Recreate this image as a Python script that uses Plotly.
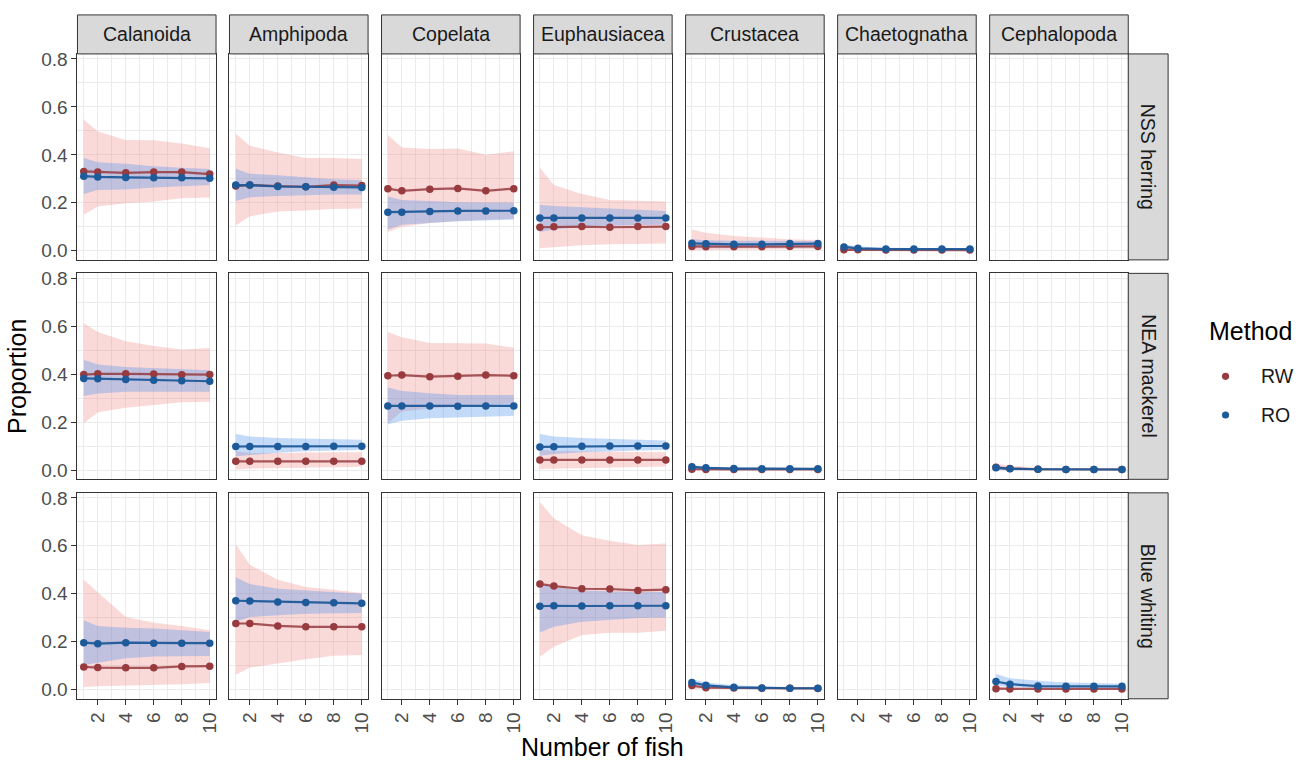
import plotly.graph_objects as go

# ---------------- data ----------------
N_FISH = [1, 2, 4, 6, 8, 10]
PREY = ["Calanoida", "Amphipoda", "Copelata", "Euphausiacea", "Crustacea", "Chaetognatha", "Cephalopoda"]
SPECIES = ["NSS herring", "NEA mackerel", "Blue whiting"]
METHODS = ["RW", "RO"]
X_TICKS = [2, 4, 6, 8, 10]
Y_TICKS = [0.0, 0.2, 0.4, 0.6, 0.8]
Y_TICK_LABELS = ["0.0", "0.2", "0.4", "0.6", "0.8"]

NSS_RW_MEAN = {
    "Calanoida": [0.331, 0.329, 0.325, 0.328, 0.328, 0.320],
    "Amphipoda": [0.270, 0.274, 0.270, 0.267, 0.274, 0.272],
    "Copelata": [0.259, 0.250, 0.257, 0.260, 0.250, 0.259],
    "Euphausiacea": [0.098, 0.100, 0.101, 0.098, 0.101, 0.101],
    "Crustacea": [0.018, 0.017, 0.017, 0.017, 0.018, 0.018],
    "Chaetognatha": [0.004, 0.004, 0.003, 0.003, 0.003, 0.003],
}
NSS_RW_LO = {
    "Calanoida": [0.150, 0.185, 0.198, 0.205, 0.219, 0.222],
    "Amphipoda": [0.105, 0.144, 0.164, 0.168, 0.174, 0.176],
    "Copelata": [0.078, 0.100, 0.116, 0.124, 0.130, 0.134],
    "Euphausiacea": [0.011, 0.016, 0.023, 0.027, 0.029, 0.030],
    "Crustacea": [0.002, 0.003, 0.004, 0.005, 0.006, 0.007],
    "Chaetognatha": [0.000, 0.000, 0.000, 0.001, 0.001, 0.001],
}
NSS_RW_HI = {
    "Calanoida": [0.547, 0.497, 0.462, 0.461, 0.447, 0.428],
    "Amphipoda": [0.488, 0.438, 0.410, 0.387, 0.387, 0.383],
    "Copelata": [0.483, 0.431, 0.424, 0.427, 0.400, 0.415],
    "Euphausiacea": [0.346, 0.274, 0.237, 0.212, 0.209, 0.205],
    "Crustacea": [0.089, 0.075, 0.062, 0.055, 0.048, 0.045],
    "Chaetognatha": [0.012, 0.010, 0.008, 0.007, 0.007, 0.006],
}
NSS_RO_MEAN = {
    "Calanoida": [0.311, 0.308, 0.306, 0.305, 0.305, 0.302],
    "Amphipoda": [0.274, 0.274, 0.268, 0.267, 0.265, 0.264],
    "Copelata": [0.161, 0.161, 0.164, 0.166, 0.166, 0.167],
    "Euphausiacea": [0.137, 0.137, 0.137, 0.137, 0.137, 0.137],
    "Crustacea": [0.031, 0.029, 0.027, 0.027, 0.030, 0.030],
    "Chaetognatha": [0.016, 0.010, 0.007, 0.007, 0.007, 0.007],
}
NSS_RO_LO = {
    "Calanoida": [0.237, 0.253, 0.256, 0.264, 0.270, 0.274],
    "Amphipoda": [0.208, 0.223, 0.228, 0.233, 0.235, 0.235],
    "Copelata": [0.089, 0.109, 0.116, 0.123, 0.127, 0.130],
    "Euphausiacea": [0.078, 0.089, 0.100, 0.104, 0.107, 0.109],
    "Crustacea": [0.010, 0.011, 0.012, 0.014, 0.014, 0.014],
    "Chaetognatha": [0.005, 0.004, 0.004, 0.004, 0.004, 0.004],
}
NSS_RO_HI = {
    "Calanoida": [0.387, 0.369, 0.363, 0.352, 0.346, 0.341],
    "Amphipoda": [0.342, 0.321, 0.315, 0.305, 0.298, 0.294],
    "Copelata": [0.226, 0.212, 0.208, 0.202, 0.201, 0.201],
    "Euphausiacea": [0.192, 0.187, 0.182, 0.178, 0.171, 0.166],
    "Crustacea": [0.048, 0.044, 0.042, 0.042, 0.041, 0.041],
    "Chaetognatha": [0.027, 0.018, 0.013, 0.012, 0.011, 0.011],
}

NEA_RW_MEAN = {
    "Calanoida": [0.399, 0.402, 0.402, 0.401, 0.398, 0.399],
    "Amphipoda": [0.037, 0.037, 0.037, 0.037, 0.037, 0.037],
    "Copelata": [0.394, 0.397, 0.390, 0.392, 0.397, 0.394],
    "Euphausiacea": [0.043, 0.043, 0.043, 0.043, 0.043, 0.043],
    "Crustacea": [0.004, 0.003, 0.003, 0.003, 0.003, 0.003],
    "Cephalopoda": [0.012, 0.007, 0.004, 0.003, 0.003, 0.003],
}
NEA_RW_LO = {
    "Calanoida": [0.196, 0.242, 0.261, 0.272, 0.283, 0.286],
    "Amphipoda": [0.003, 0.007, 0.010, 0.011, 0.012, 0.014],
    "Copelata": [0.196, 0.245, 0.258, 0.265, 0.272, 0.279],
    "Euphausiacea": [0.005, 0.008, 0.010, 0.012, 0.014, 0.016],
    "Crustacea": [0.000, 0.000, 0.001, 0.001, 0.001, 0.001],
    "Cephalopoda": [0.000, 0.000, 0.000, 0.001, 0.001, 0.001],
}
NEA_RW_HI = {
    "Calanoida": [0.613, 0.576, 0.538, 0.518, 0.504, 0.510],
    "Amphipoda": [0.079, 0.072, 0.072, 0.075, 0.075, 0.075],
    "Copelata": [0.576, 0.555, 0.531, 0.528, 0.528, 0.511],
    "Euphausiacea": [0.085, 0.080, 0.078, 0.076, 0.076, 0.075],
    "Crustacea": [0.020, 0.012, 0.009, 0.008, 0.007, 0.007],
    "Cephalopoda": [0.028, 0.018, 0.010, 0.008, 0.007, 0.006],
}
NEA_RO_MEAN = {
    "Calanoida": [0.383, 0.382, 0.378, 0.375, 0.373, 0.371],
    "Amphipoda": [0.099, 0.099, 0.099, 0.099, 0.100, 0.100],
    "Copelata": [0.268, 0.268, 0.268, 0.267, 0.268, 0.268],
    "Euphausiacea": [0.097, 0.098, 0.100, 0.101, 0.101, 0.101],
    "Crustacea": [0.014, 0.010, 0.007, 0.006, 0.006, 0.006],
    "Cephalopoda": [0.010, 0.006, 0.004, 0.003, 0.003, 0.003],
}
NEA_RO_LO = {
    "Calanoida": [0.310, 0.320, 0.327, 0.327, 0.327, 0.327],
    "Amphipoda": [0.058, 0.065, 0.073, 0.079, 0.082, 0.084],
    "Copelata": [0.192, 0.206, 0.217, 0.221, 0.224, 0.227],
    "Euphausiacea": [0.060, 0.068, 0.075, 0.079, 0.082, 0.085],
    "Crustacea": [0.004, 0.004, 0.003, 0.003, 0.003, 0.003],
    "Cephalopoda": [0.002, 0.002, 0.001, 0.001, 0.001, 0.001],
}
NEA_RO_HI = {
    "Calanoida": [0.461, 0.441, 0.431, 0.427, 0.421, 0.417],
    "Amphipoda": [0.151, 0.141, 0.134, 0.131, 0.130, 0.127],
    "Copelata": [0.345, 0.330, 0.321, 0.314, 0.314, 0.314],
    "Euphausiacea": [0.151, 0.141, 0.134, 0.130, 0.127, 0.124],
    "Crustacea": [0.022, 0.016, 0.012, 0.010, 0.009, 0.009],
    "Cephalopoda": [0.018, 0.011, 0.007, 0.006, 0.005, 0.005],
}

BW_RW_MEAN = {
    "Calanoida": [0.095, 0.092, 0.091, 0.091, 0.097, 0.098],
    "Amphipoda": [0.276, 0.276, 0.266, 0.262, 0.262, 0.262],
    "Euphausiacea": [0.441, 0.432, 0.421, 0.420, 0.414, 0.417],
    "Crustacea": [0.017, 0.008, 0.007, 0.006, 0.006, 0.005],
    "Cephalopoda": [0.004, 0.003, 0.003, 0.003, 0.003, 0.003],
}
BW_RW_LO = {
    "Calanoida": [0.011, 0.014, 0.018, 0.021, 0.023, 0.028],
    "Amphipoda": [0.062, 0.092, 0.110, 0.127, 0.142, 0.145],
    "Euphausiacea": [0.138, 0.179, 0.228, 0.237, 0.237, 0.246],
    "Crustacea": [0.003, 0.002, 0.002, 0.002, 0.002, 0.002],
    "Cephalopoda": [0.000, 0.000, 0.000, 0.000, 0.001, 0.001],
}
BW_RW_HI = {
    "Calanoida": [0.458, 0.405, 0.303, 0.279, 0.266, 0.248],
    "Amphipoda": [0.607, 0.521, 0.458, 0.428, 0.417, 0.403],
    "Euphausiacea": [0.783, 0.714, 0.644, 0.621, 0.603, 0.610],
    "Crustacea": [0.035, 0.020, 0.014, 0.012, 0.011, 0.010],
    "Cephalopoda": [0.012, 0.009, 0.008, 0.007, 0.007, 0.007],
}
BW_RO_MEAN = {
    "Calanoida": [0.196, 0.192, 0.196, 0.194, 0.194, 0.194],
    "Amphipoda": [0.371, 0.370, 0.366, 0.364, 0.363, 0.360],
    "Euphausiacea": [0.348, 0.350, 0.349, 0.350, 0.350, 0.350],
    "Crustacea": [0.030, 0.018, 0.010, 0.007, 0.006, 0.006],
    "Cephalopoda": [0.034, 0.023, 0.015, 0.014, 0.014, 0.014],
}
BW_RO_LO = {
    "Calanoida": [0.103, 0.113, 0.131, 0.138, 0.141, 0.141],
    "Amphipoda": [0.283, 0.303, 0.310, 0.317, 0.320, 0.320],
    "Euphausiacea": [0.239, 0.262, 0.283, 0.290, 0.299, 0.301],
    "Crustacea": [0.015, 0.009, 0.005, 0.004, 0.004, 0.004],
    "Cephalopoda": [0.015, 0.012, 0.007, 0.006, 0.006, 0.006],
}
BW_RO_HI = {
    "Calanoida": [0.290, 0.266, 0.258, 0.255, 0.248, 0.241],
    "Amphipoda": [0.469, 0.441, 0.421, 0.414, 0.407, 0.400],
    "Euphausiacea": [0.444, 0.428, 0.414, 0.410, 0.407, 0.407],
    "Crustacea": [0.045, 0.030, 0.018, 0.013, 0.011, 0.010],
    "Cephalopoda": [0.065, 0.048, 0.037, 0.030, 0.028, 0.025],
}

TABLE = {
    "NSS herring": {"RW": (NSS_RW_MEAN, NSS_RW_LO, NSS_RW_HI), "RO": (NSS_RO_MEAN, NSS_RO_LO, NSS_RO_HI)},
    "NEA mackerel": {"RW": (NEA_RW_MEAN, NEA_RW_LO, NEA_RW_HI), "RO": (NEA_RO_MEAN, NEA_RO_LO, NEA_RO_HI)},
    "Blue whiting": {"RW": (BW_RW_MEAN, BW_RW_LO, BW_RW_HI), "RO": (BW_RO_MEAN, BW_RO_LO, BW_RO_HI)},
}

# ---------------- style ----------------
W, H = 1308, 762
POINT_COL = {"RW": "#973B3F", "RO": "#1D5A99"}
LINE_COL = {"RW": "rgba(151,59,63,0.85)", "RO": "rgba(29,90,153,0.95)"}
FILL_COL = {"RW": "rgba(240,128,128,0.30)", "RO": "rgba(70,140,235,0.32)"}
FONT = "Liberation Sans, Arial, Helvetica, sans-serif"

COL_LEFT0, COL_W, COL_STEP = 77.7, 139.0, 152.5
ROW_TOP0, ROW_H, ROW_STEP = 49.3, 207.6, 221.2
STRIP_TOP = 10.0
RSTRIP_W = 40.0
X_RANGE = [0.55, 10.45]
Y_RANGE = [-0.038, 0.821]

fig = go.Figure()
layout = dict(
    width=W, height=H, margin=dict(l=0, r=0, t=0, b=0),
    paper_bgcolor="white", plot_bgcolor="white",
    font=dict(family=FONT, color="#1A1A1A"),
    shapes=[], annotations=[], showlegend=False,
)

def px2fx(px):
    return px / W

def py2fy(py):
    return 1 - py / H

for r, sp in enumerate(SPECIES):
    for c, prey in enumerate(PREY):
        idx = r * len(PREY) + c + 1
        xa = "xaxis" if idx == 1 else f"xaxis{idx}"
        ya = "yaxis" if idx == 1 else f"yaxis{idx}"
        xref = "x" if idx == 1 else f"x{idx}"
        yref = "y" if idx == 1 else f"y{idx}"
        left = COL_LEFT0 + c * COL_STEP
        top = ROW_TOP0 + r * ROW_STEP
        bottom_row = r == len(SPECIES) - 1
        left_col = c == 0
        layout[xa] = dict(
            domain=[px2fx(left), px2fx(left + COL_W)], anchor=yref, range=X_RANGE,
            tickmode="array", tickvals=X_TICKS, ticktext=[str(v) for v in X_TICKS],
            showticklabels=bottom_row, ticks="outside" if bottom_row else "",
            ticklen=5, tickwidth=1.2, tickcolor="#333333", tickangle=-90,
            tickfont=dict(size=19, color="#4D4D4D", family=FONT),
            showgrid=True, gridcolor="#EBEBEB", gridwidth=1.4,
            minor=dict(tickmode="array", tickvals=[1, 3, 5, 7, 9], showgrid=True,
                       gridcolor="#EBEBEB", gridwidth=0.8),
            showline=True, linecolor="#333333", linewidth=1, mirror=True,
            zeroline=False, fixedrange=True,
        )
        layout[ya] = dict(
            domain=[py2fy(top + ROW_H), py2fy(top)], anchor=xref, range=Y_RANGE,
            tickmode="array", tickvals=Y_TICKS, ticktext=Y_TICK_LABELS,
            showticklabels=left_col, ticks="outside" if left_col else "",
            ticklen=5, tickwidth=1.2, tickcolor="#333333",
            tickfont=dict(size=19, color="#4D4D4D", family=FONT),
            showgrid=True, gridcolor="#EBEBEB", gridwidth=1.4,
            minor=dict(tickmode="array", tickvals=[0.1, 0.3, 0.5, 0.7], showgrid=True,
                       gridcolor="#EBEBEB", gridwidth=0.8),
            showline=True, linecolor="#333333", linewidth=1, mirror=True,
            zeroline=False, fixedrange=True,
        )
        # placeholder so that empty panels are drawn too
        fig.add_trace(go.Scatter(x=[None], y=[None], xaxis=xref, yaxis=yref,
                                 mode="markers", hoverinfo="skip", showlegend=False))
        # ribbons first
        for m in METHODS:
            mean_d, lo_d, hi_d = TABLE[sp][m]
            if prey not in mean_d:
                continue
            lo, hi = lo_d[prey], hi_d[prey]
            fig.add_trace(go.Scatter(
                x=N_FISH + N_FISH[::-1], y=hi + lo[::-1], xaxis=xref, yaxis=yref,
                fill="toself", fillcolor=FILL_COL[m], line=dict(width=0),
                mode="lines", hoverinfo="skip", showlegend=False,
            ))
        for m in METHODS:
            mean_d, lo_d, hi_d = TABLE[sp][m]
            if prey not in mean_d:
                continue
            fig.add_trace(go.Scatter(
                x=N_FISH, y=mean_d[prey], xaxis=xref, yaxis=yref, mode="lines+markers",
                line=dict(color=LINE_COL[m], width=2.2),
                marker=dict(color=POINT_COL[m], size=7.5),
                name=m, showlegend=False,
            ))
        # top strips
        if r == 0:
            layout["shapes"].append(dict(
                type="rect", xref="paper", yref="paper",
                x0=px2fx(left), x1=px2fx(left + COL_W), y0=py2fy(top), y1=py2fy(STRIP_TOP),
                fillcolor="#D9D9D9", line=dict(color="#333333", width=1), layer="above",
            ))
            layout["annotations"].append(dict(
                text=prey, xref="paper", yref="paper", showarrow=False,
                x=px2fx(left + COL_W / 2), y=py2fy((STRIP_TOP + top) / 2),
                xanchor="center", yanchor="middle",
                font=dict(size=19.5, color="#1A1A1A", family=FONT),
            ))
    # right strips
    top = ROW_TOP0 + r * ROW_STEP
    rl = COL_LEFT0 + (len(PREY) - 1) * COL_STEP + COL_W
    layout["shapes"].append(dict(
        type="rect", xref="paper", yref="paper",
        x0=px2fx(rl), x1=px2fx(rl + RSTRIP_W), y0=py2fy(top + ROW_H), y1=py2fy(top),
        fillcolor="#D9D9D9", line=dict(color="#333333", width=1), layer="above",
    ))
    layout["annotations"].append(dict(
        text=sp, xref="paper", yref="paper", showarrow=False, textangle=90,
        x=px2fx(rl + RSTRIP_W / 2), y=py2fy(top + ROW_H / 2),
        xanchor="center", yanchor="middle",
        font=dict(size=19.5, color="#1A1A1A", family=FONT),
    ))

# axis titles
layout["annotations"].append(dict(
    text="Proportion", xref="paper", yref="paper", showarrow=False, textangle=-90,
    x=px2fx(17), y=py2fy(374), xanchor="center", yanchor="middle",
    font=dict(size=25, color="#000000", family=FONT),
))
layout["annotations"].append(dict(
    text="Number of fish", xref="paper", yref="paper", showarrow=False,
    x=px2fx(604.7), y=py2fy(748), xanchor="center", yanchor="middle",
    font=dict(size=25, color="#000000", family=FONT),
))

# legend (title, keys and labels)
LEG_TITLE_X, LEG_TITLE_Y = 1210.7, 329
LEG_KEY_X, LEG_TEXT_X = 1229.3, 1262.7
LEG_ROW_Y = {"RW": 374.3, "RO": 413.3}
layout["annotations"].append(dict(
    text="Method", xref="paper", yref="paper", showarrow=False,
    x=px2fx(LEG_TITLE_X), y=py2fy(LEG_TITLE_Y), xanchor="left", yanchor="middle",
    font=dict(size=25, color="#000000", family=FONT),
))
for m in METHODS:
    ky = LEG_ROW_Y[m]
    layout["shapes"].append(dict(
        type="circle", xref="paper", yref="paper",
        x0=px2fx(LEG_KEY_X - 3.6), x1=px2fx(LEG_KEY_X + 3.6),
        y0=py2fy(ky + 3.6), y1=py2fy(ky - 3.6),
        fillcolor=POINT_COL[m], line=dict(width=0),
    ))
    layout["annotations"].append(dict(
        text=m, xref="paper", yref="paper", showarrow=False,
        x=px2fx(LEG_TEXT_X), y=py2fy(ky), xanchor="left", yanchor="middle",
        font=dict(size=19.5, color="#1A1A1A", family=FONT),
    ))

fig.update_layout(**layout)
fig.write_html("out.html")
